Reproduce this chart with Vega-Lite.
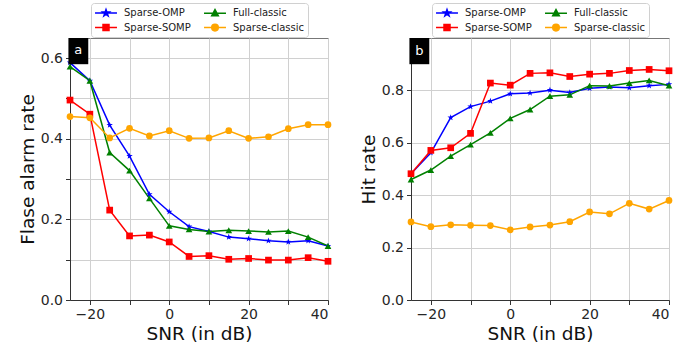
{
  "$schema": "https://vega.github.io/schema/vega-lite/v6.json",
  "padding": {"left": 17, "top": 2, "right": 0, "bottom": 0},
  "bounds": "flush",
  "spacing": 83,
  "datasets": {
    "rates": [
      {"panel":"a","series":"Sparse-OMP","snr":-25,"value":0.589},
      {"panel":"a","series":"Sparse-OMP","snr":-20,"value":0.544},
      {"panel":"a","series":"Sparse-OMP","snr":-15,"value":0.434},
      {"panel":"a","series":"Sparse-OMP","snr":-10,"value":0.357},
      {"panel":"a","series":"Sparse-OMP","snr":-5,"value":0.262},
      {"panel":"a","series":"Sparse-OMP","snr":0,"value":0.219},
      {"panel":"a","series":"Sparse-OMP","snr":5,"value":0.182},
      {"panel":"a","series":"Sparse-OMP","snr":10,"value":0.170},
      {"panel":"a","series":"Sparse-OMP","snr":15,"value":0.156},
      {"panel":"a","series":"Sparse-OMP","snr":20,"value":0.152},
      {"panel":"a","series":"Sparse-OMP","snr":25,"value":0.147},
      {"panel":"a","series":"Sparse-OMP","snr":30,"value":0.144},
      {"panel":"a","series":"Sparse-OMP","snr":35,"value":0.147},
      {"panel":"a","series":"Sparse-OMP","snr":40,"value":0.134},
      {"panel":"a","series":"Sparse-SOMP","snr":-25,"value":0.496},
      {"panel":"a","series":"Sparse-SOMP","snr":-20,"value":0.461},
      {"panel":"a","series":"Sparse-SOMP","snr":-15,"value":0.223},
      {"panel":"a","series":"Sparse-SOMP","snr":-10,"value":0.159},
      {"panel":"a","series":"Sparse-SOMP","snr":-5,"value":0.161},
      {"panel":"a","series":"Sparse-SOMP","snr":0,"value":0.144},
      {"panel":"a","series":"Sparse-SOMP","snr":5,"value":0.108},
      {"panel":"a","series":"Sparse-SOMP","snr":10,"value":0.110},
      {"panel":"a","series":"Sparse-SOMP","snr":15,"value":0.101},
      {"panel":"a","series":"Sparse-SOMP","snr":20,"value":0.103},
      {"panel":"a","series":"Sparse-SOMP","snr":25,"value":0.099},
      {"panel":"a","series":"Sparse-SOMP","snr":30,"value":0.099},
      {"panel":"a","series":"Sparse-SOMP","snr":35,"value":0.105},
      {"panel":"a","series":"Sparse-SOMP","snr":40,"value":0.096},
      {"panel":"a","series":"Full-classic","snr":-25,"value":0.579},
      {"panel":"a","series":"Full-classic","snr":-20,"value":0.544},
      {"panel":"a","series":"Full-classic","snr":-15,"value":0.366},
      {"panel":"a","series":"Full-classic","snr":-10,"value":0.321},
      {"panel":"a","series":"Full-classic","snr":-5,"value":0.252},
      {"panel":"a","series":"Full-classic","snr":0,"value":0.184},
      {"panel":"a","series":"Full-classic","snr":5,"value":0.175},
      {"panel":"a","series":"Full-classic","snr":10,"value":0.170},
      {"panel":"a","series":"Full-classic","snr":15,"value":0.173},
      {"panel":"a","series":"Full-classic","snr":20,"value":0.171},
      {"panel":"a","series":"Full-classic","snr":25,"value":0.169},
      {"panel":"a","series":"Full-classic","snr":30,"value":0.171},
      {"panel":"a","series":"Full-classic","snr":35,"value":0.156},
      {"panel":"a","series":"Full-classic","snr":40,"value":0.134},
      {"panel":"a","series":"Sparse-classic","snr":-25,"value":0.455},
      {"panel":"a","series":"Sparse-classic","snr":-20,"value":0.452},
      {"panel":"a","series":"Sparse-classic","snr":-15,"value":0.402},
      {"panel":"a","series":"Sparse-classic","snr":-10,"value":0.426},
      {"panel":"a","series":"Sparse-classic","snr":-5,"value":0.407},
      {"panel":"a","series":"Sparse-classic","snr":0,"value":0.420},
      {"panel":"a","series":"Sparse-classic","snr":5,"value":0.401},
      {"panel":"a","series":"Sparse-classic","snr":10,"value":0.402},
      {"panel":"a","series":"Sparse-classic","snr":15,"value":0.420},
      {"panel":"a","series":"Sparse-classic","snr":20,"value":0.401},
      {"panel":"a","series":"Sparse-classic","snr":25,"value":0.405},
      {"panel":"a","series":"Sparse-classic","snr":30,"value":0.425},
      {"panel":"a","series":"Sparse-classic","snr":35,"value":0.435},
      {"panel":"a","series":"Sparse-classic","snr":40,"value":0.435},
      {"panel":"b","series":"Sparse-OMP","snr":-25,"value":0.482},
      {"panel":"b","series":"Sparse-OMP","snr":-20,"value":0.562},
      {"panel":"b","series":"Sparse-OMP","snr":-15,"value":0.696},
      {"panel":"b","series":"Sparse-OMP","snr":-10,"value":0.738},
      {"panel":"b","series":"Sparse-OMP","snr":-5,"value":0.759},
      {"panel":"b","series":"Sparse-OMP","snr":0,"value":0.787},
      {"panel":"b","series":"Sparse-OMP","snr":5,"value":0.790},
      {"panel":"b","series":"Sparse-OMP","snr":10,"value":0.801},
      {"panel":"b","series":"Sparse-OMP","snr":15,"value":0.792},
      {"panel":"b","series":"Sparse-OMP","snr":20,"value":0.808},
      {"panel":"b","series":"Sparse-OMP","snr":25,"value":0.813},
      {"panel":"b","series":"Sparse-OMP","snr":30,"value":0.810},
      {"panel":"b","series":"Sparse-OMP","snr":35,"value":0.818},
      {"panel":"b","series":"Sparse-OMP","snr":40,"value":0.823},
      {"panel":"b","series":"Sparse-SOMP","snr":-25,"value":0.482},
      {"panel":"b","series":"Sparse-SOMP","snr":-20,"value":0.571},
      {"panel":"b","series":"Sparse-SOMP","snr":-15,"value":0.581},
      {"panel":"b","series":"Sparse-SOMP","snr":-10,"value":0.636},
      {"panel":"b","series":"Sparse-SOMP","snr":-5,"value":0.828},
      {"panel":"b","series":"Sparse-SOMP","snr":0,"value":0.820},
      {"panel":"b","series":"Sparse-SOMP","snr":5,"value":0.865},
      {"panel":"b","series":"Sparse-SOMP","snr":10,"value":0.867},
      {"panel":"b","series":"Sparse-SOMP","snr":15,"value":0.853},
      {"panel":"b","series":"Sparse-SOMP","snr":20,"value":0.862},
      {"panel":"b","series":"Sparse-SOMP","snr":25,"value":0.865},
      {"panel":"b","series":"Sparse-SOMP","snr":30,"value":0.876},
      {"panel":"b","series":"Sparse-SOMP","snr":35,"value":0.880},
      {"panel":"b","series":"Sparse-SOMP","snr":40,"value":0.875},
      {"panel":"b","series":"Full-classic","snr":-25,"value":0.460},
      {"panel":"b","series":"Full-classic","snr":-20,"value":0.496},
      {"panel":"b","series":"Full-classic","snr":-15,"value":0.549},
      {"panel":"b","series":"Full-classic","snr":-10,"value":0.593},
      {"panel":"b","series":"Full-classic","snr":-5,"value":0.638},
      {"panel":"b","series":"Full-classic","snr":0,"value":0.693},
      {"panel":"b","series":"Full-classic","snr":5,"value":0.727},
      {"panel":"b","series":"Full-classic","snr":10,"value":0.778},
      {"panel":"b","series":"Full-classic","snr":15,"value":0.783},
      {"panel":"b","series":"Full-classic","snr":20,"value":0.818},
      {"panel":"b","series":"Full-classic","snr":25,"value":0.817},
      {"panel":"b","series":"Full-classic","snr":30,"value":0.828},
      {"panel":"b","series":"Full-classic","snr":35,"value":0.838},
      {"panel":"b","series":"Full-classic","snr":40,"value":0.818},
      {"panel":"b","series":"Sparse-classic","snr":-25,"value":0.298},
      {"panel":"b","series":"Sparse-classic","snr":-20,"value":0.280},
      {"panel":"b","series":"Sparse-classic","snr":-15,"value":0.287},
      {"panel":"b","series":"Sparse-classic","snr":-10,"value":0.285},
      {"panel":"b","series":"Sparse-classic","snr":-5,"value":0.284},
      {"panel":"b","series":"Sparse-classic","snr":0,"value":0.268},
      {"panel":"b","series":"Sparse-classic","snr":5,"value":0.279},
      {"panel":"b","series":"Sparse-classic","snr":10,"value":0.286},
      {"panel":"b","series":"Sparse-classic","snr":15,"value":0.299},
      {"panel":"b","series":"Sparse-classic","snr":20,"value":0.336},
      {"panel":"b","series":"Sparse-classic","snr":25,"value":0.329},
      {"panel":"b","series":"Sparse-classic","snr":30,"value":0.369},
      {"panel":"b","series":"Sparse-classic","snr":35,"value":0.347},
      {"panel":"b","series":"Sparse-classic","snr":40,"value":0.380}
    ]
  },
  "resolve": {"legend": {"color": "independent"}, "scale": {"y": "independent"}},
  "hconcat": [
    {
      "width": 258,
      "height": 262,
      "layer": [
        {
          "data": {"name": "rates"},
          "transform": [{"filter": "datum.panel == 'a'"}],
          "mark": {"type": "line", "strokeWidth": 1.5},
          "encoding": {
            "x": {"field": "snr", "type": "quantitative", "scale": {"domain": [-25, 40], "nice": false, "zero": false},
                  "axis": {"title": "SNR (in dB)", "values": [-20, -10, 0, 10, 20, 30, 40], "labelExpr": "datum.value % 20 == 0 ? datum.label : ''", "titlePadding": 3}},
            "y": {"field": "value", "type": "quantitative", "scale": {"domain": [0, 0.65], "nice": false},
                  "axis": {"title": "Flase alarm rate", "values": [0, 0.1, 0.2, 0.3, 0.4, 0.5, 0.6], "labelExpr": "round(datum.value * 10) % 2 == 0 ? format(datum.value, '.1f') : ''", "titlePadding": 3}},
            "color": {"field": "series", "type": "nominal",
                      "scale": {"domain": ["Sparse-OMP", "Sparse-SOMP", "Full-classic", "Sparse-classic"], "range": ["#0000ff", "#ff0000", "#008000", "#ffa500"]},
                      "legend": {"orient": "none", "legendX": 21, "legendY": -35,
                        "encode": {"symbols": {"update": {
                          "shape": {"signal": "datum.value == 'Sparse-OMP' ? 'M-1.83,0H1.83M0,-0.6L0.141,-0.195L0.571,-0.185L0.228,0.075L0.353,0.485L0,0.24L-0.353,0.485L-0.228,0.075L-0.571,-0.185L-0.141,-0.195Z' : datum.value == 'Sparse-SOMP' ? 'M-1.83,0H1.83M-0.5,-0.5H0.5V0.5H-0.5Z' : datum.value == 'Full-classic' ? 'M-1.83,0H1.83M0,-0.6L0.55,0.45L-0.55,0.45Z' : 'M-1.83,0H1.83M-0.55,0A0.55,0.55 0 1,0 0.55,0A0.55,0.55 0 1,0 -0.55,0Z'"},
                          "fill": {"signal": "datum.value == 'Sparse-OMP' ? '#0000ff' : datum.value == 'Sparse-SOMP' ? '#ff0000' : datum.value == 'Full-classic' ? '#008000' : '#ffa500'"},
                          "stroke": {"signal": "datum.value == 'Sparse-OMP' ? '#0000ff' : datum.value == 'Sparse-SOMP' ? '#ff0000' : datum.value == 'Full-classic' ? '#008000' : '#ffa500'"},
                          "strokeWidth": {"value": 1.5},
                          "opacity": {"value": 1}
                        }}}}},
            "detail": {"field": "series"}
          }
        },
        {
          "data": {"name": "rates"},
          "transform": [{"filter": "datum.panel == 'a'"}],
          "mark": {"type": "point", "filled": true, "opacity": 1, "size": 45},
          "encoding": {
            "x": {"field": "snr", "type": "quantitative"},
            "y": {"field": "value", "type": "quantitative"},
            "color": {"field": "series", "type": "nominal"},
            "shape": {"field": "series", "type": "nominal", "legend": null,
                      "scale": {"domain": ["Sparse-OMP", "Sparse-SOMP", "Full-classic", "Sparse-classic"],
                                "range": ["M0,-1L0.235,-0.324L0.951,-0.309L0.38,0.124L0.588,0.809L0,0.4L-0.588,0.809L-0.38,0.124L-0.951,-0.309L-0.235,-0.324Z", "square", "triangle-up", "circle"]}}
          }
        },
        {
          "data": {"values": [{"tag": "a"}]},
          "mark": {"type": "rect", "color": "black"},
          "encoding": {
            "x": {"datum": -25.4, "type": "quantitative"},
            "x2": {"datum": -20.4},
            "y": {"datum": 0.65, "type": "quantitative"},
            "y2": {"datum": 0.585}
          }
        },
        {
          "data": {"values": [{"tag": "a"}]},
          "mark": {"type": "text", "color": "white", "fontSize": 13, "align": "center", "baseline": "middle"},
          "encoding": {
            "x": {"datum": -22.9, "type": "quantitative"},
            "y": {"datum": 0.619, "type": "quantitative"},
            "text": {"field": "tag"}
          }
        }
      ]
    },
    {
      "width": 258,
      "height": 262,
      "layer": [
        {
          "data": {"name": "rates"},
          "transform": [{"filter": "datum.panel == 'b'"}],
          "mark": {"type": "line", "strokeWidth": 1.5},
          "encoding": {
            "x": {"field": "snr", "type": "quantitative", "scale": {"domain": [-25, 40], "nice": false, "zero": false},
                  "axis": {"title": "SNR (in dB)", "values": [-20, -10, 0, 10, 20, 30, 40], "labelExpr": "datum.value % 20 == 0 ? datum.label : ''", "titlePadding": 3}},
            "y": {"field": "value", "type": "quantitative", "scale": {"domain": [0, 1.0], "nice": false},
                  "axis": {"title": "Hit rate", "values": [0, 0.2, 0.4, 0.6, 0.8], "format": ".1f", "titlePadding": 3}},
            "color": {"field": "series", "type": "nominal",
                      "legend": {"orient": "none", "legendX": 21, "legendY": -35,
                        "encode": {"symbols": {"update": {
                          "shape": {"signal": "datum.value == 'Sparse-OMP' ? 'M-1.83,0H1.83M0,-0.6L0.141,-0.195L0.571,-0.185L0.228,0.075L0.353,0.485L0,0.24L-0.353,0.485L-0.228,0.075L-0.571,-0.185L-0.141,-0.195Z' : datum.value == 'Sparse-SOMP' ? 'M-1.83,0H1.83M-0.5,-0.5H0.5V0.5H-0.5Z' : datum.value == 'Full-classic' ? 'M-1.83,0H1.83M0,-0.6L0.55,0.45L-0.55,0.45Z' : 'M-1.83,0H1.83M-0.55,0A0.55,0.55 0 1,0 0.55,0A0.55,0.55 0 1,0 -0.55,0Z'"},
                          "fill": {"signal": "datum.value == 'Sparse-OMP' ? '#0000ff' : datum.value == 'Sparse-SOMP' ? '#ff0000' : datum.value == 'Full-classic' ? '#008000' : '#ffa500'"},
                          "stroke": {"signal": "datum.value == 'Sparse-OMP' ? '#0000ff' : datum.value == 'Sparse-SOMP' ? '#ff0000' : datum.value == 'Full-classic' ? '#008000' : '#ffa500'"},
                          "strokeWidth": {"value": 1.5},
                          "opacity": {"value": 1}
                        }}}}},
            "detail": {"field": "series"}
          }
        },
        {
          "data": {"name": "rates"},
          "transform": [{"filter": "datum.panel == 'b'"}],
          "mark": {"type": "point", "filled": true, "opacity": 1, "size": 45},
          "encoding": {
            "x": {"field": "snr", "type": "quantitative"},
            "y": {"field": "value", "type": "quantitative"},
            "color": {"field": "series", "type": "nominal"},
            "shape": {"field": "series", "type": "nominal", "legend": null}
          }
        },
        {
          "data": {"values": [{"tag": "b"}]},
          "mark": {"type": "rect", "color": "black"},
          "encoding": {
            "x": {"datum": -25.4, "type": "quantitative"},
            "x2": {"datum": -20.4},
            "y": {"datum": 1.0, "type": "quantitative"},
            "y2": {"datum": 0.9}
          }
        },
        {
          "data": {"values": [{"tag": "b"}]},
          "mark": {"type": "text", "color": "white", "fontSize": 13, "align": "center", "baseline": "middle"},
          "encoding": {
            "x": {"datum": -22.9, "type": "quantitative"},
            "y": {"datum": 0.952, "type": "quantitative"},
            "text": {"field": "tag"}
          }
        }
      ]
    }
  ],
  "config": {
    "font": "DejaVu Sans",
    "view": {"stroke": "#777777", "strokeWidth": 1},
    "axis": {
      "labelFont": "DejaVu Sans", "titleFont": "DejaVu Sans",
      "labelFontSize": 14, "titleFontSize": 18.5, "titleFontWeight": "normal",
      "labelColor": "#262626", "titleColor": "#111111",
      "domainColor": "#333333", "tickColor": "#333333", "tickSize": 4.5,
      "gridColor": "#d0d0d0", "gridWidth": 1, "labelPadding": 3
    },
    "legend": {
      "title": null,
      "columns": 2,
      "labelFont": "DejaVu Sans", "labelFontSize": 10, "labelColor": "#222222",
      "symbolSize": 144, "symbolStrokeWidth": 1.5,
      "fillColor": "white", "strokeColor": "#d0d0d0", "cornerRadius": 3, "padding": 3,
      "columnPadding": 10, "rowPadding": 1.6, "labelOffset": 11, "symbolOffset": 5
    }
  }
}
